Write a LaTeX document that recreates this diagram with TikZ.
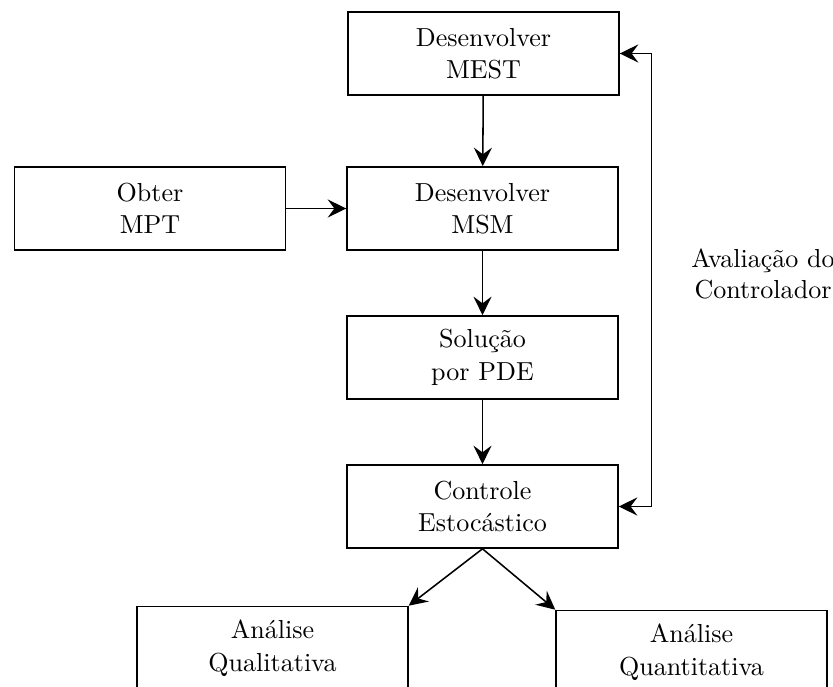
\documentclass[tikz,border=0pt]{standalone}
\usepackage{fontspec}
\usetikzlibrary{arrows.meta}
\begin{document}
\begin{tikzpicture}[x=0.3876pt,y=-0.3876pt,
  box/.style={draw,line width=0.6pt,minimum width=105pt,minimum height=32.2pt,inner sep=0pt,align=center,font=\fontsize{10.1}{12.6}\selectfont},
  lbl/.style={align=center,font=\fontsize{10.1}{12.2}\selectfont},
  tip/.style={Stealth[length=7.2pt,width=7pt,inset=2.6pt]},
  conn/.style={line width=0.6pt,-{Stealth[length=7.2pt,width=7pt,inset=2.6pt]}},
  conn2/.style={line width=0.6pt,{Stealth[length=7.2pt,width=7pt,inset=2.6pt]}-{Stealth[length=7.2pt,width=7pt,inset=2.6pt]}}]
\useasboundingbox (0,0) rectangle (833,687);
\node[box] (mest) at (483.5,53.5) {Desenvolver\\MEST};
\node[box] (msm) at (482.5,208.5) {Desenvolver\\MSM};
\node[box] (mpt) at (150,208.5) {Obter\\MPT};
\node[box] (pde) at (482.5,357.5) {Solução\\por PDE};
\node[box] (ctrl) at (482.5,506.5) {Controle\\Estocástico};
\node[box] (qual) at (272.5,648) {Análise\\Qualitativa};
\node[box] (quant) at (691.5,652) {Análise\\Quantitativa};
\node[lbl] (aval) at (763,274) {Avaliação do\\Controlador};
\draw[conn] (mest) -- (msm);
\draw[conn] (mpt) -- (msm);
\draw[conn] (msm) -- (pde);
\draw[conn] (pde) -- (ctrl);
\draw[conn] (ctrl.south) -- (qual.north east);
\draw[conn] (ctrl.south) -- (quant.north west);
\draw[conn2] (mest.east) -- ++(32,0) |- (ctrl.east);
\end{tikzpicture}
\end{document}
